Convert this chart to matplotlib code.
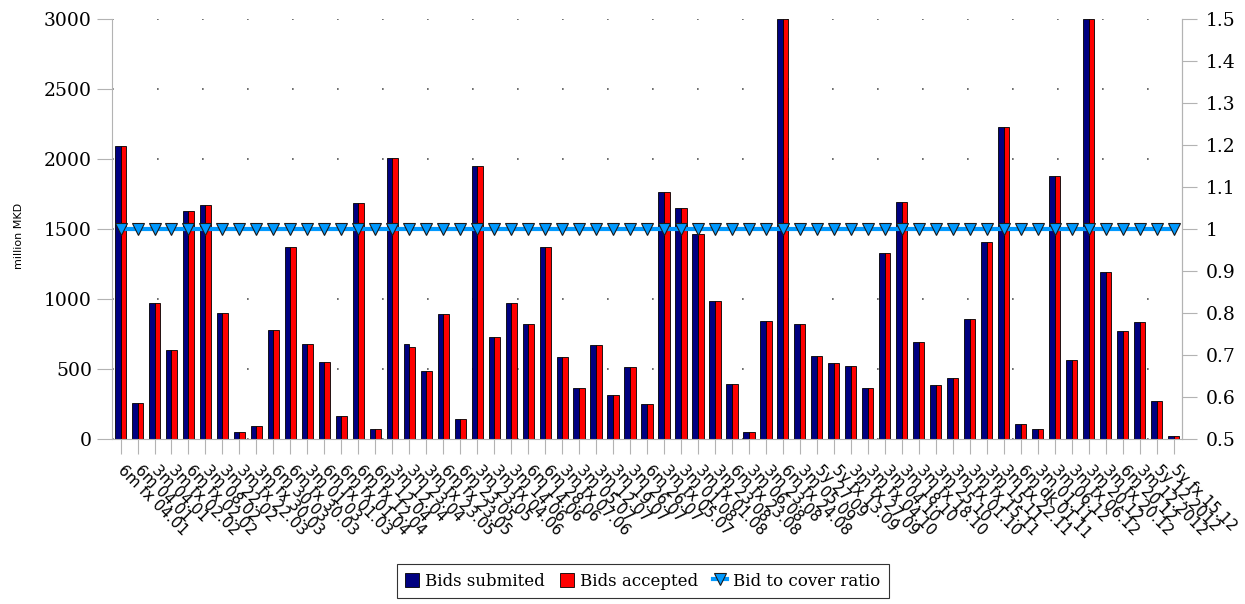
" bids submitted / accepted per auction with bid-to-cover ratio "
import numpy as np
import matplotlib.pyplot as plt
from matplotlib.ticker import FuncFormatter
from matplotlib.patches import Patch
from matplotlib.lines import Line2D

plt.rcParams['font.family'] = 'DejaVu Serif'

auctions = [
    "6m fx 04.01", "6m 04.01", "3m 04.01", "3m fx 02.02", "6m fx 02.02",
    "3m 08.02", "3m 22.02", "3m fx 22.03", "3m fx 30.03", "6m 30.03",
    "6m fx 30.03", "3m 01.03", "6m fx 01.03", "6m fx 01.04", "6m fx 12.04",
    "6m 12.04", "3m 12.04", "3m 23.04", "3m fx 23.05", "6m fx 23.05",
    "6m 23.05", "3m 23.05", "3m fx 04.06", "3m 14.06", "6m 14.06",
    "6m 28.06", "3m fx 07.06", "3m 05.07", "3m 12.07", "3m 19.07",
    "3m 26.07", "6m 26.07", "3m fx 05.07", "3m 01.08", "3m fx 01.08",
    "3m 23.08", "6m fx 23.08", "3m 06.08", "3m 23.08", "6m fx 24.08",
    "3m 05.09", "5y 27.09", "5y fx 13.09", "3m fx 27.09", "3m fx 04.10",
    "3m 04.10", "3m 18.10", "3m fx 18.10", "3m 25.10", "3m fx 01.10",
    "3m fx 15.11", "3m 15.11", "3m fx 22.11", "6m dk 01.11", "3m 01.11",
    "3m 06.12", "3m fx 06.12", "3m 20.12", "3m fx 20.12", "6m 20.12",
    "3m 12.2012", "5y 12.2012", "5y fx 15.12",
]

bids_submitted = [
    2090, 257, 971, 638, 1626, 1671, 902, 50, 93, 781,
    1371, 678, 550, 162, 1686, 71, 2007, 678, 488, 895,
    143, 1952, 728, 971, 821, 1371, 586, 362, 671, 316,
    512, 252, 1764, 1650, 1464, 988, 393, 52, 845, 3000,
    824, 590, 543, 519, 364, 1329, 1690, 693, 383, 433,
    857, 1409, 2229, 107, 74, 1879, 564, 3000, 1190, 771,
    836, 271, 21,
]

bids_accepted = [
    2090, 257, 971, 638, 1626, 1671, 902, 50, 93, 781,
    1371, 678, 550, 162, 1686, 71, 2007, 657, 488, 895,
    143, 1952, 728, 971, 821, 1371, 586, 362, 671, 316,
    512, 252, 1764, 1650, 1464, 988, 393, 52, 845, 3000,
    824, 590, 543, 519, 364, 1329, 1690, 693, 383, 433,
    857, 1409, 2229, 107, 74, 1879, 564, 3000, 1190, 771,
    836, 271, 21,
]

cover_ratio = [1.0] * len(auctions)

NAVY = "#000080"
RED = "#ff0000"
BLUE = "#0099ff"
AXIS_GREY = "#b3b3b3"

fig = plt.figure(figsize=(12.45, 6.04), dpi=100)
ax = fig.add_axes([0.09, 0.2732, 0.8594, 0.6953])

x = np.arange(len(auctions))
w = 0.33
ax.bar(x - w / 2, bids_submitted, w, color=NAVY, edgecolor="black",
       linewidth=0.6, zorder=2)
ax.bar(x + w / 2, bids_accepted, w, color=RED, edgecolor="black",
       linewidth=0.6, zorder=2)

ax.set_xlim(-0.5, len(auctions) - 0.5)
ax.set_ylim(0, 3000)
ax.set_yticks(range(0, 3001, 500))
ax.yaxis.grid(True, linestyle=(0, (1, 26)), color="#555555", linewidth=1.2)
ax.set_axisbelow(True)

ax.set_xticks(x)
ax.set_xticklabels(auctions, rotation=-45, ha="left", va="center",
                   rotation_mode="anchor", fontsize=11, family="DejaVu Sans")
ax.tick_params(axis="x", length=11, color=AXIS_GREY, pad=10)
ax.tick_params(axis="y", length=11, color=AXIS_GREY, labelsize=13.5)

ax.spines["top"].set_visible(False)
for s in ["left", "right", "bottom"]:
    ax.spines[s].set_color(AXIS_GREY)

ax2 = ax.twinx()
ax2.plot(x, cover_ratio, color=BLUE, linewidth=3, marker="v", markersize=8,
         markerfacecolor=BLUE, markeredgecolor="#1a1a1a", markeredgewidth=0.8)
ax2.set_ylim(0.5, 1.5)
ax2.set_yticks(np.round(np.arange(0.5, 1.51, 0.1), 1))
ax2.yaxis.set_major_formatter(FuncFormatter(lambda v, _: f"{round(v, 1):g}"))
ax2.tick_params(axis="y", length=11, color=AXIS_GREY, labelsize=13.5, pad=6)
for s in ["top", "left", "bottom"]:
    ax2.spines[s].set_visible(False)
ax2.spines["right"].set_color(AXIS_GREY)

fig.text(0.015, 0.61, "million MKD", rotation=90, va="center", ha="center",
         fontsize=8, family="DejaVu Sans")

handles = [
    Patch(facecolor=NAVY, edgecolor="black", linewidth=0.6),
    Patch(facecolor=RED, edgecolor="black", linewidth=0.6),
    Line2D([], [], color=BLUE, linewidth=3, marker="v", markersize=8,
           markerfacecolor=BLUE, markeredgecolor="#1a1a1a",
           markeredgewidth=0.8),
]
leg = fig.legend(handles, ["Bids submited", "Bids accepted", "Bid to cover ratio"],
                 loc="center", bbox_to_anchor=(0.5165, 0.038), ncol=3,
                 fontsize=12, frameon=True, fancybox=False, edgecolor="black",
                 handlelength=0.8, handleheight=0.9, handletextpad=0.4,
                 columnspacing=0.9, borderpad=0.5)
leg.get_frame().set_linewidth(0.8)

fig.savefig("out.png", dpi=100)
